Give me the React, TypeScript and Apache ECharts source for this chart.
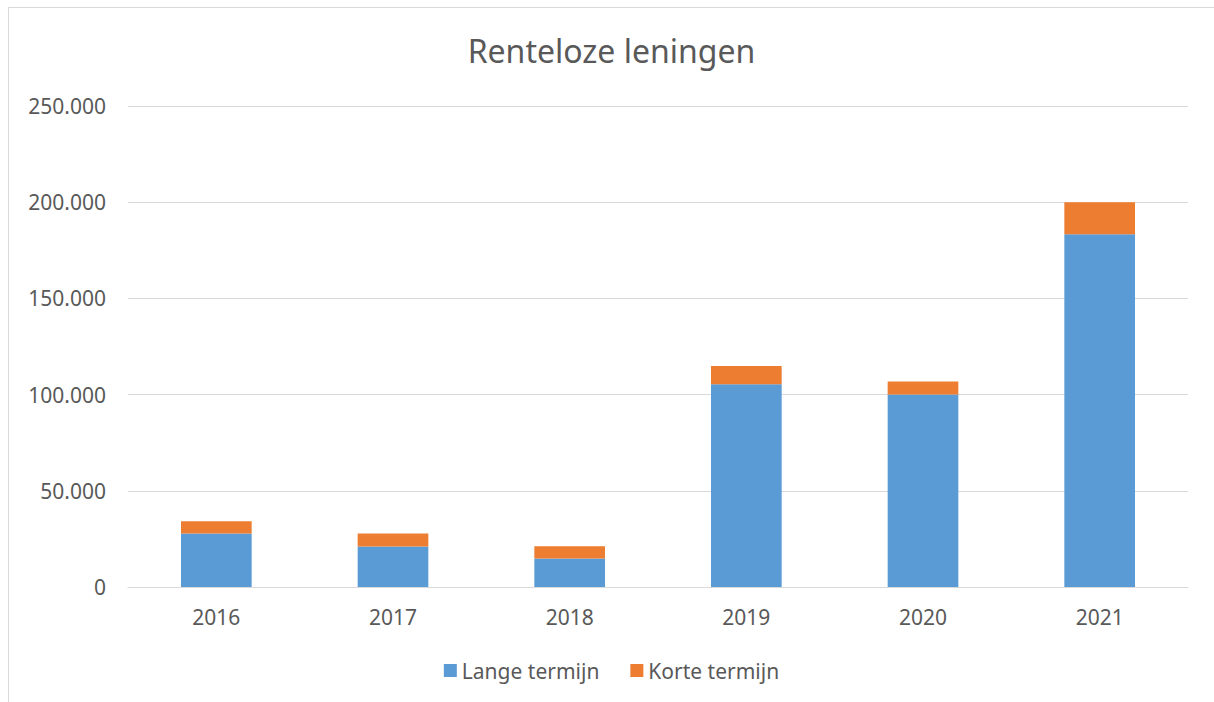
import React, { useEffect, useRef } from "react";
import * as echarts from "echarts";

// Renteloze leningen per jaar, gestapeld: lange en korte termijn
const years = ["2016", "2017", "2018", "2019", "2020", "2021"];
const langeTermijn = [27800, 21000, 14800, 105400, 100000, 183300];
const korteTermijn = [6400, 6800, 6400, 9400, 6800, 16700];
const seriesNames = ["Lange termijn", "Korte termijn"];

const FONT = "'Noto Sans', sans-serif";
const TEXT = "#595959";

const fmt = (v: number) =>
  v === 0 ? "0" : Math.round(v).toString().replace(/\B(?=(\d{3})+(?!\d))/g, ".");

export default function App() {
  const ref = useRef<HTMLDivElement>(null);

  useEffect(() => {
    if (!ref.current) return;
    const chart = echarts.init(ref.current, null, { renderer: "svg" });
    chart.setOption({
      animation: false,
      backgroundColor: "#ffffff",
      title: {
        text: "Renteloze leningen",
        left: "center",
        top: 21,
        textStyle: { color: TEXT, fontFamily: FONT, fontSize: 32, fontWeight: "normal" },
      },
      legend: {
        bottom: 16,
        left: "center",
        itemWidth: 13,
        itemHeight: 13,
        itemGap: 31,
        icon: "rect",
        data: seriesNames,
        textStyle: { color: TEXT, fontFamily: FONT, fontSize: 21 },
      },
      grid: { left: 119, right: 26, top: 98, bottom: 115 },
      xAxis: {
        type: "category",
        data: years,
        axisLine: { lineStyle: { color: "#d9d9d9", width: 1 } },
        axisTick: { show: false },
        axisLabel: { color: TEXT, fontFamily: FONT, fontSize: 21, margin: 19 },
      },
      yAxis: {
        type: "value",
        min: 0,
        max: 250000,
        interval: 50000,
        axisLine: { show: false },
        axisTick: { show: false },
        splitLine: { lineStyle: { color: "#d9d9d9", width: 1 } },
        axisLabel: {
          color: TEXT,
          fontFamily: FONT,
          fontSize: 21,
          margin: 22,
          formatter: (v: number) => fmt(v),
        },
      },
      series: [
        {
          name: seriesNames[0],
          type: "bar",
          stack: "totaal",
          data: langeTermijn,
          barWidth: "40%",
          itemStyle: { color: "#5B9BD5" },
        },
        {
          name: seriesNames[1],
          type: "bar",
          stack: "totaal",
          data: korteTermijn,
          barWidth: "40%",
          itemStyle: { color: "#ED7D31" },
        },
      ],
    });
    return () => chart.dispose();
  }, []);

  return (
    <div
      style={{
        position: "fixed",
        left: 8,
        top: 7,
        width: 1205,
        height: 694,
        borderLeft: "1px solid #d9d9d9",
        borderTop: "1px solid #d9d9d9",
        background: "#fff",
      }}
    >
      <div ref={ref} style={{ width: 1205, height: 694 }} />
    </div>
  );
}
